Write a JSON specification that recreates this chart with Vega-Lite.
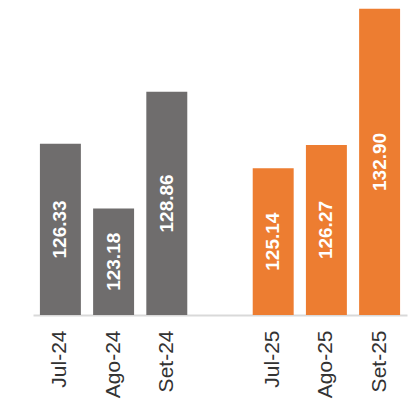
{
  "$schema": "https://vega.github.io/schema/vega-lite/v6.json",
  "width": 374,
  "height": 315,
  "autosize": {"type": "none"},
  "padding": {"left": 33, "top": 0, "right": 12, "bottom": 91},
  "background": "white",
  "config": {"view": {"stroke": null}, "font": "Liberation Sans"},
  "data": {
    "values": [
      {"month": "Jul-24", "year": "2024", "value": 126.33},
      {"month": "Ago-24", "year": "2024", "value": 123.18},
      {"month": "Set-24", "year": "2024", "value": 128.86},
      {"month": "Jul-25", "year": "2025", "value": 125.14},
      {"month": "Ago-25", "year": "2025", "value": 126.27},
      {"month": "Set-25", "year": "2025", "value": 132.90}
    ]
  },
  "transform": [{"calculate": "(datum.value + 118) / 2", "as": "mid"}],
  "encoding": {
    "x": {
      "field": "month",
      "type": "nominal",
      "sort": null,
      "scale": {
        "domain": ["Jul-24", "Ago-24", "Set-24", "gap", "Jul-25", "Ago-25", "Set-25"],
        "paddingInner": 0.23,
        "paddingOuter": 0.13
      },
      "axis": {
        "title": null,
        "labelAngle": -90,
        "labelExpr": "datum.value == 'gap' ? '' : datum.value",
        "labelFontSize": 21,
        "labelColor": "#333333",
        "labelPadding": 15,
        "ticks": false,
        "domainColor": "#d9d9d9",
        "domainWidth": 2,
        "grid": false
      }
    }
  },
  "layer": [
    {
      "mark": {"type": "bar"},
      "encoding": {
        "y": {
          "field": "value",
          "type": "quantitative",
          "scale": {"domain": [118, 133.33], "zero": false, "nice": false, "clamp": true},
          "axis": null
        },
        "color": {
          "field": "year",
          "type": "nominal",
          "scale": {"domain": ["2024", "2025"], "range": ["#6f6d6d", "#ed7d31"]},
          "legend": null
        }
      }
    },
    {
      "mark": {"type": "text", "angle": 270, "color": "white", "fontWeight": "bold", "fontSize": 19, "align": "center", "baseline": "middle", "dy": 0},
      "encoding": {
        "y": {"field": "mid", "type": "quantitative", "scale": {"domain": [118, 133.33], "zero": false, "nice": false}, "axis": null},
        "text": {"field": "value", "type": "quantitative", "format": ".2f"}
      }
    }
  ]
}
